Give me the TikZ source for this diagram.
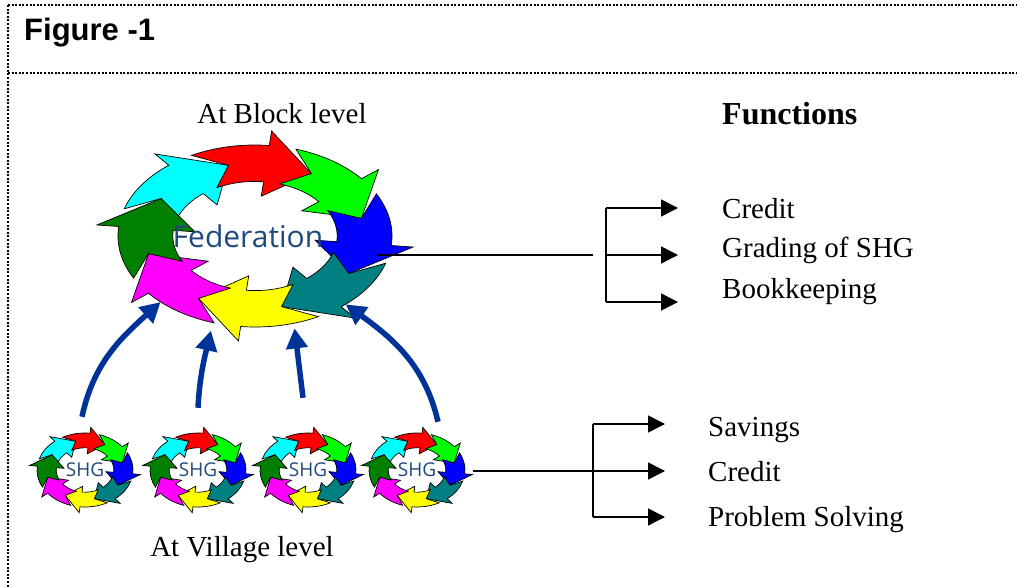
\documentclass[tikz,border=0pt]{standalone}
\usepackage{fontspec}
\setmainfont{Liberation Serif}
\newfontfamily\arialfont{Liberation Sans}
\newfontfamily\fedfont{Open Sans}
\usetikzlibrary{arrows.meta,shapes.geometric}
\definecolor{cyanA}{RGB}{0,255,255}
\definecolor{redA}{RGB}{255,0,0}
\definecolor{greenA}{RGB}{0,255,0}
\definecolor{blueA}{RGB}{0,0,255}
\definecolor{tealA}{RGB}{0,128,128}
\definecolor{yellowA}{RGB}{255,255,0}
\definecolor{magentaA}{RGB}{255,0,255}
\definecolor{dgreenA}{RGB}{0,128,0}
\definecolor{fedblue}{RGB}{31,73,125}
\definecolor{arrowblue}{RGB}{0,51,153}
\def\hh{25}
\def\hq{13.6}
\newcommand\cycring[4]{%
  \begin{scope}[shift={(#1,#2)}]
    \foreach \ang/\col in {104/cyanA,59/redA,14/greenA,-31/blueA,-76/tealA,-121/yellowA,-166/magentaA,149/dgreenA}{%
      \pgfmathsetmacro\angp{\ang+45}%
      \pgfmathsetmacro\anga{\angp+\hq}%
      \pgfmathsetmacro\angb{\ang+\hh}%
      \filldraw[fill=\col,draw=black,line width=0.7pt,line join=miter]
        (\anga:#3 and #4) arc[start angle=\anga,end angle=\angb,x radius=#3,y radius=#4]
        -- (\angb:{1.16*#3} and {1.16*#4})
        -- (\ang:{0.80*#3} and {0.80*#4})
        -- (\angb:{0.44*#3} and {0.44*#4})
        -- (\angb:{0.60*#3} and {0.60*#4})
        arc[start angle=\angb,end angle=\anga,x radius={0.60*#3},y radius={0.60*#4}]
        -- (\angp:{0.80*#3} and {0.80*#4}) -- cycle;
    }%
  \end{scope}}
\begin{document}
\begin{tikzpicture}[x=1pt,y=1pt,
  frameline/.style={line width=2.2pt,dash pattern=on 2pt off 1.6pt},
  lbl/.style={font=\fontsize{29}{34}\selectfont,inner sep=0pt,anchor=base west},
  fnarrow/.style={-{Triangle[length=17pt,width=17pt]},line width=1.5pt},
  plainline/.style={line width=1.5pt},
  uparrow/.style={draw=arrowblue,line width=5.5pt,-{Triangle[length=20pt,width=21pt]}},
  ringnode/.style={ellipse,inner sep=0pt,draw=none},
  shglbl/.style={ringnode,minimum width=96pt,minimum height=74pt,font=\fedfont\fontsize{19}{22}\selectfont,text=fedblue}
]
\useasboundingbox (0,0) rectangle (1017,587);
\fill[white] (0,0) rectangle (1017,587);

% frame
\draw[frameline] (8,582) -- (1017,582);
\draw[frameline] (8,514) -- (1017,514);
\draw[frameline] (8,582) -- (8,0);
\node[font=\arialfont\bfseries\fontsize{31}{36}\selectfont,inner sep=0pt,anchor=base west] (title) at (24,546) {Figure -1};

% rings
\cycring{255}{351}{137}{91}
\cycring{85}{117}{48}{37}
\cycring{198}{117}{48}{37}
\cycring{308}{117}{48}{37}
\cycring{417}{117}{48}{37}

\node[ringnode,minimum width=274pt,minimum height=182pt] (fed) at (255,351) {};
\node[font=\fedfont\fontsize{30}{36}\selectfont,text=fedblue,inner sep=0pt] (fedlbl) at (248,351) {Federation};
\node[shglbl] (shg1) at (85,117) {SHG};
\node[shglbl] (shg2) at (198,117) {SHG};
\node[shglbl] (shg3) at (308,117) {SHG};
\node[shglbl] (shg4) at (417,117) {SHG};

% level labels
\node[font=\fontsize{29}{34}\selectfont,inner sep=0pt,anchor=base] (block) at (282,463) {At Block level};
\node[font=\fontsize{29}{34}\selectfont,inner sep=0pt,anchor=base] (village) at (242,31) {At Village level};

% blue arrows
\draw[uparrow] ([shift={(-3,16)}]shg1.north) to[out=78,in=222] (fed.-145);
\draw[uparrow,shorten >=8pt] ([shift={(0,25)}]shg2.north) to[out=87,in=257] (fed.-116);
\draw[uparrow,shorten >=5pt] ([shift={(-5,35)}]shg3.north) -- (fed.-66);
\draw[uparrow] ([shift={(21,11)}]shg4.north) to[out=103,in=324] (fed.-37);

% functions (block)
\node[font=\bfseries\fontsize{32}{38}\selectfont,inner sep=0pt,anchor=base west] (functions) at (722,462) {Functions};
\node[lbl] (f1) at (722,368) {Credit};
\node[lbl] (f2) at (722,329) {Grading of SHG};
\node[lbl] (f3) at (722,288) {Bookkeeping};

\coordinate (fedout) at (377,332);
\coordinate (fedend) at (593,332);
\coordinate (ba) at (606,379);
\coordinate (bb) at (606,332);
\coordinate (bc) at (606,285);
\coordinate (ta) at (678,379);
\coordinate (tb) at (678,332);
\coordinate (tc) at (678,285);
\draw[plainline] (fedout) -- (fedend);
\draw[plainline] (ba) -- (bc);
\draw[fnarrow] (ba) -- (ta);
\draw[fnarrow] (bb) -- (tb);
\draw[fnarrow] (bc) -- (tc);

% functions (village)
\node[lbl] (v1) at (708,151) {Savings};
\node[lbl] (v2) at (708,106) {Credit};
\node[lbl] (v3) at (708,61) {Problem Solving};

\coordinate (shgout) at (473,116);
\coordinate (va) at (593,163);
\coordinate (vc) at (593,70);
\coordinate (ua) at (665,163);
\coordinate (ub) at (665,116);
\coordinate (uc) at (665,70);
\draw[plainline] (va) -- (vc);
\draw[fnarrow] (va) -- (ua);
\draw[fnarrow] (shgout) -- (ub);
\draw[fnarrow] (vc) -- (uc);
\end{tikzpicture}
\end{document}
